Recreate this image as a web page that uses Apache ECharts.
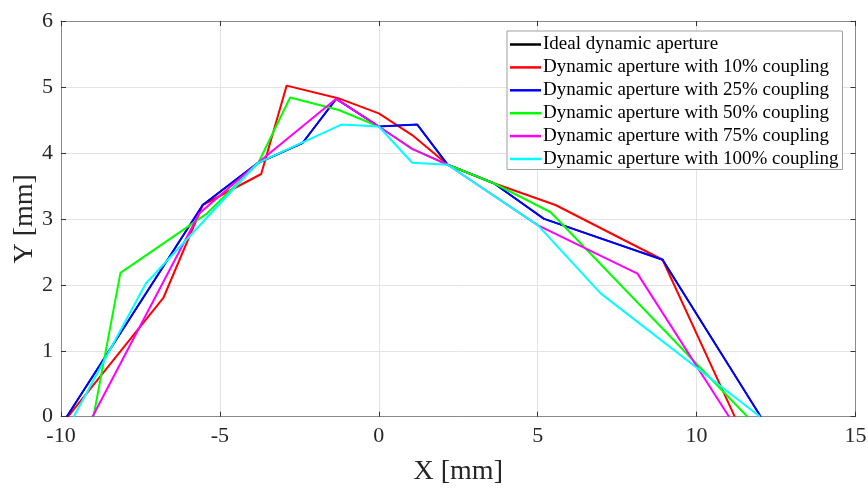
<!DOCTYPE html>
<html>
<head>
<meta charset="utf-8">
<script src="https://cdn.jsdelivr.net/npm/echarts@6/dist/echarts.min.js"></script>
<style>html,body{margin:0;padding:0;background:#fff;}#c{width:868px;height:489px;}</style>
</head>
<body>
<div id="c"></div>
<script>
// ---- data ----
const seriesNames = [
  'Ideal dynamic aperture',
  'Dynamic aperture with 10% coupling',
  'Dynamic aperture with 25% coupling',
  'Dynamic aperture with 50% coupling',
  'Dynamic aperture with 75% coupling',
  'Dynamic aperture with 100% coupling'
];
const xTicks = [-10, -5, 0, 5, 10, 15];
const yTicks = [0, 1, 2, 3, 4, 5, 6];

const idealX = [-9.82, -5.54, -3.83, -2.40, -1.34, 0.00, 1.21, 2.17, 3.62, 5.20, 8.93, 12.02];
const idealY = [0.00, 3.21, 3.84, 4.15, 4.82, 4.40, 4.43, 3.82, 3.54, 3.00, 2.38, 0.00];

const c10X = [-9.78, -6.78, -5.54, -3.70, -2.90, -1.28, 0.00, 1.05, 2.17, 3.62, 5.56, 8.93, 11.20];
const c10Y = [0.00, 1.80, 3.21, 3.68, 5.02, 4.83, 4.60, 4.27, 3.82, 3.54, 3.21, 2.38, 0.00];

const c25X = [-9.82, -5.54, -3.83, -2.40, -1.34, 0.00, 1.21, 2.17, 3.62, 5.20, 8.93, 12.02];
const c25Y = [0.00, 3.21, 3.84, 4.15, 4.82, 4.40, 4.43, 3.82, 3.54, 3.00, 2.38, 0.00];

const c50X = [-8.98, -8.13, -5.41, -3.80, -2.79, -1.26, 0.00, 1.05, 2.17, 3.62, 5.41, 11.60];
const c50Y = [0.00, 2.18, 3.08, 3.84, 4.84, 4.65, 4.40, 4.06, 3.82, 3.54, 3.10, 0.00];

const c75X = [-9.01, -5.65, -3.83, -1.34, 0.00, 1.05, 2.17, 5.01, 8.14, 11.02];
const c75Y = [0.00, 3.08, 3.84, 4.82, 4.40, 4.06, 3.82, 2.90, 2.17, 0.00];

const c100X = [-9.60, -7.33, -3.83, -1.18, 0.00, 1.05, 2.17, 5.01, 6.98, 12.00];
const c100Y = [0.00, 2.02, 3.84, 4.43, 4.40, 3.85, 3.82, 2.90, 1.87, 0.00];

const allX = [idealX, c10X, c25X, c50X, c75X, c100X];
const allY = [idealY, c10Y, c25Y, c50Y, c75Y, c100Y];
const colors = ['#000000', '#ff0000', '#0000ff', '#00ff00', '#ff00ff', '#00ffff'];

// ---- chart ----
const FONT = '"Liberation Serif", "Times New Roman", serif';
const TXT = '#262626';
const AX = '#8a8a8a';

const series = seriesNames.map((name, i) => ({
  name: name,
  type: 'line',
  xAxisIndex: 0,
  yAxisIndex: 0,
  symbol: 'none',
  smooth: false,
  animation: false,
  lineStyle: { color: colors[i], width: i === 0 ? 1.6 : 2 },
  itemStyle: { color: colors[i] },
  data: allX[i].map((x, k) => [x, allY[i][k]])
}));

const chart = echarts.init(document.getElementById('c'), null, { renderer: 'canvas' });
chart.setOption({
  backgroundColor: '#ffffff',
  animation: false,
  grid: { left: 61, right: 12.5, top: 21, bottom: 72.3, containLabel: false, outerBoundsMode: 'none' },
  legend: {
    orient: 'vertical',
    left: 507,
    top: 31,
    padding: [4, 4, 1, 3],
    itemGap: 3.9,
    itemWidth: 31,
    itemHeight: 2.5,
    icon: 'rect',
    backgroundColor: '#ffffff',
    borderColor: '#a0a0a0',
    borderWidth: 1,
    borderRadius: 0,
    textStyle: { fontFamily: FONT, fontSize: 19, lineHeight: 19, color: '#000', padding: [0, 0, 0, -3] },
    data: seriesNames
  },
  xAxis: [{
    type: 'value', position: 'bottom',
    min: -10, max: 15, interval: 5,
    name: 'X [mm]', nameLocation: 'middle', nameGap: 41,
    nameTextStyle: { fontFamily: FONT, fontSize: 28, color: TXT },
    axisLine: { show: true, onZero: false, lineStyle: { color: AX, width: 1 } },
    axisTick: { show: true, inside: true, length: 5, lineStyle: { color: '#333' } },
    axisLabel: { fontFamily: FONT, fontSize: 22, color: TXT, margin: 9 },
    splitLine: { show: true, lineStyle: { color: '#e3e3e3', width: 1 } }
  }, {
    type: 'value', position: 'top',
    min: -10, max: 15, interval: 5,
    axisLine: { show: true, onZero: false, lineStyle: { color: AX, width: 1 } },
    axisTick: { show: true, inside: true, length: 5, lineStyle: { color: '#333' } },
    axisLabel: { show: false },
    splitLine: { show: false }
  }],
  yAxis: [{
    type: 'value', position: 'left',
    min: 0, max: 6, interval: 1,
    name: 'Y [mm]', nameLocation: 'middle', nameGap: 22, nameMoveOverlap: false,
    nameTextStyle: { fontFamily: FONT, fontSize: 28, color: TXT },
    axisLine: { show: true, onZero: false, lineStyle: { color: AX, width: 1 } },
    axisTick: { show: true, inside: true, length: 5, lineStyle: { color: '#333' } },
    axisLabel: { fontFamily: FONT, fontSize: 22, color: TXT, margin: 8 },
    splitLine: { show: true, lineStyle: { color: '#e3e3e3', width: 1 } }
  }, {
    type: 'value', position: 'right',
    min: 0, max: 6, interval: 1,
    axisLine: { show: true, onZero: false, lineStyle: { color: AX, width: 1 } },
    axisTick: { show: true, inside: true, length: 5, lineStyle: { color: '#333' } },
    axisLabel: { show: false },
    splitLine: { show: false }
  }],
  series: series
});
</script>
</body>
</html>
